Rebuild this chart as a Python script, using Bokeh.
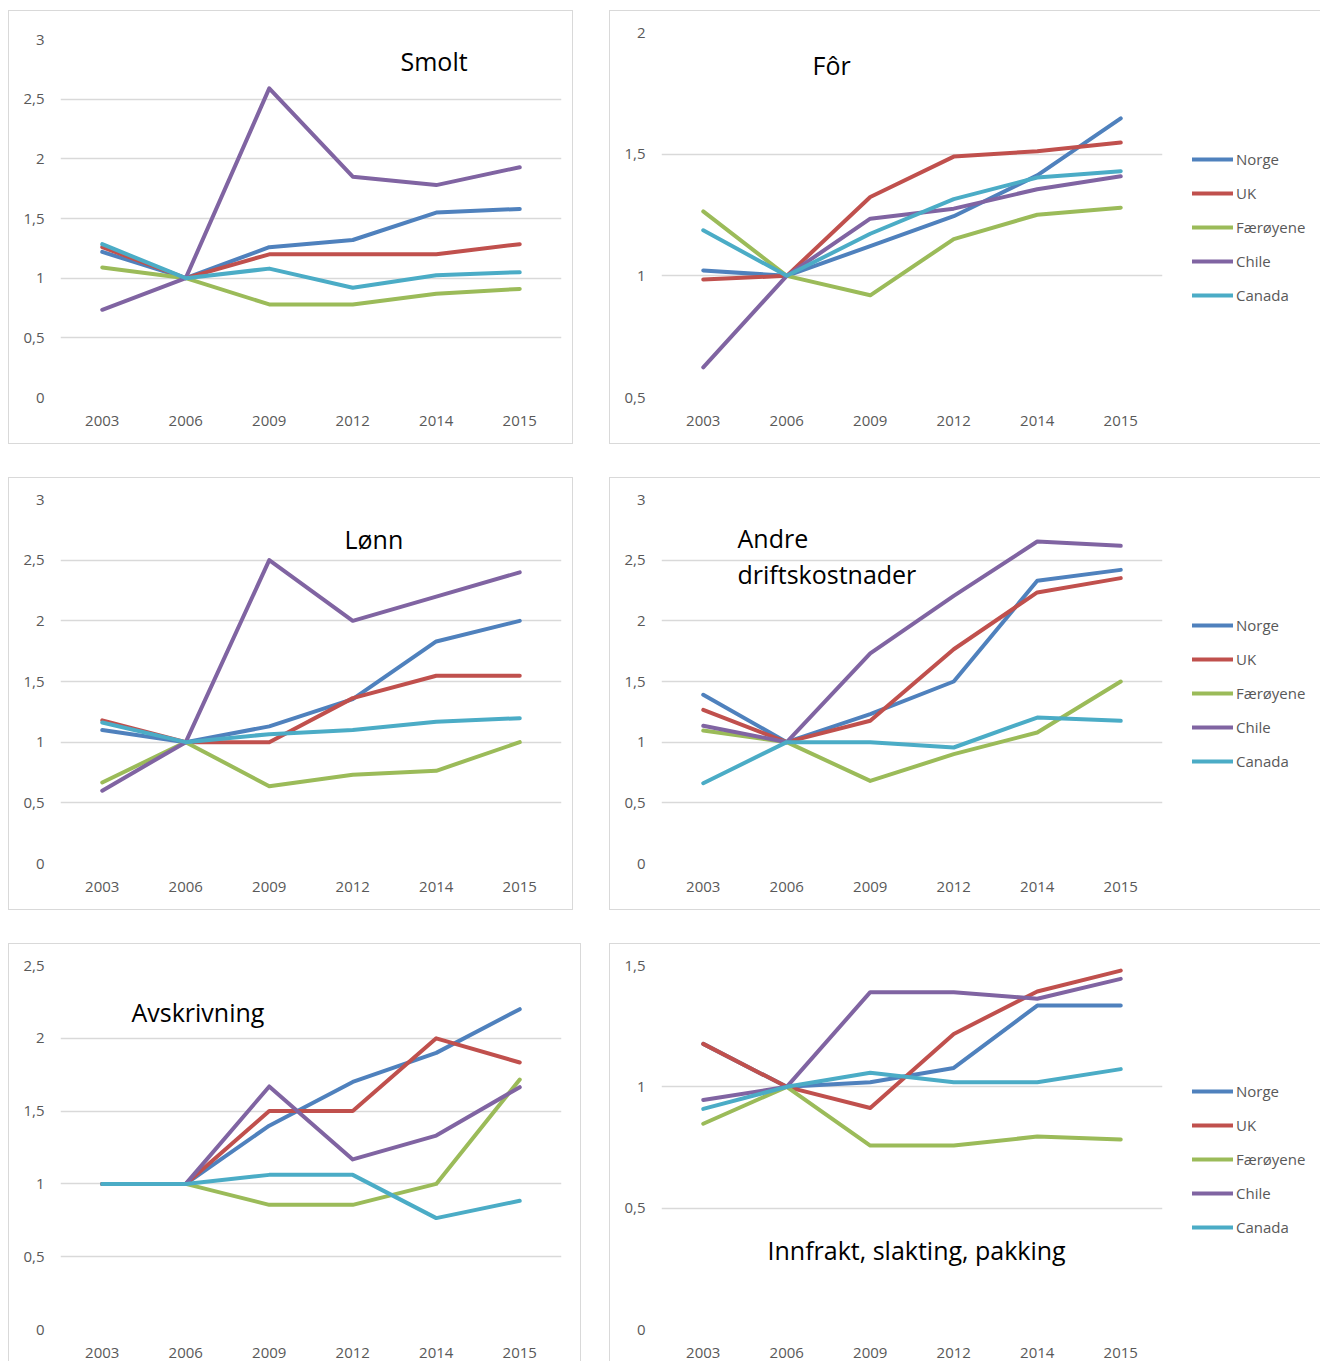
from bokeh.plotting import figure
from bokeh.models import (FactorRange, Range1d, FixedTicker, CustomJSTickFormatter,
                          Legend, LegendItem, Label, Spacer)
from bokeh.layouts import row, column
from bokeh.embed import file_html
from bokeh.resources import INLINE

years = ["2003", "2006", "2009", "2012", "2014", "2015"]
countries = ["Norge", "UK", "Færøyene", "Chile", "Canada"]
colors = ["#4F81BD", "#C0504D", "#9BBB59", "#8064A2", "#4BACC6"]

smolt = {
    "Norge":    [1.22, 1.0, 1.26, 1.32, 1.55, 1.58],
    "UK":       [1.26, 1.0, 1.20, 1.20, 1.20, 1.285],
    "Færøyene": [1.09, 1.0, 0.78, 0.78, 0.87, 0.91],
    "Chile":    [0.735, 1.0, 2.59, 1.85, 1.78, 1.93],
    "Canada":   [1.285, 1.0, 1.08, 0.92, 1.025, 1.05],
}
foer = {
    "Norge":    [1.022, 1.0, 1.122, 1.245, 1.413, 1.647],
    "UK":       [0.985, 1.0, 1.324, 1.49, 1.512, 1.548],
    "Færøyene": [1.265, 1.0, 0.92, 1.151, 1.251, 1.28],
    "Chile":    [0.624, 1.0, 1.235, 1.276, 1.356, 1.409],
    "Canada":   [1.187, 1.0, 1.173, 1.315, 1.404, 1.43],
}
lonn = {
    "Norge":    [1.10, 1.0, 1.13, 1.354, 1.83, 2.0],
    "UK":       [1.18, 1.0, 1.0, 1.363, 1.547, 1.547],
    "Færøyene": [0.668, 1.0, 0.637, 0.731, 0.764, 1.0],
    "Chile":    [0.6, 1.0, 2.5, 2.0, 2.2, 2.4],
    "Canada":   [1.162, 1.0, 1.066, 1.10, 1.168, 1.198],
}
andre = {
    "Norge":    [1.39, 1.0, 1.231, 1.5, 2.33, 2.42],
    "UK":       [1.266, 1.0, 1.176, 1.766, 2.234, 2.352],
    "Færøyene": [1.096, 1.0, 0.681, 0.901, 1.08, 1.5],
    "Chile":    [1.135, 1.0, 1.731, 2.206, 2.654, 2.618],
    "Canada":   [0.662, 1.0, 1.0, 0.956, 1.203, 1.176],
}
avskrivning = {
    "Norge":    [1.0, 1.0, 1.40, 1.70, 1.90, 2.20],
    "UK":       [1.0, 1.0, 1.5, 1.5, 2.0, 1.834],
    "Færøyene": [1.0, 1.0, 0.856, 0.856, 1.0, 1.717],
    "Chile":    [1.0, 1.0, 1.669, 1.168, 1.332, 1.664],
    "Canada":   [1.0, 1.0, 1.062, 1.062, 0.765, 0.884],
}
innfrakt = {
    "Norge":    [1.177, 1.0, 1.019, 1.078, 1.335, 1.335],
    "UK":       [1.177, 1.0, 0.913, 1.218, 1.393, 1.479],
    "Færøyene": [0.848, 1.0, 0.758, 0.758, 0.795, 0.783],
    "Chile":    [0.946, 1.0, 1.39, 1.39, 1.363, 1.445],
    "Canada":   [0.909, 1.0, 1.058, 1.019, 1.019, 1.073],
}

FONT = "Open Sans"
GRID = "#d9d9d9"
TICK = "#595959"

ALL4 = "inset 1px 1px 0 #d9d9d9, inset -1px -1px 0 #d9d9d9"
RIGHT_TOP = "inset 1px 1px 0 #d9d9d9, inset 0 -1px 0 #d9d9d9"
LEFT_BOTTOM = "inset 1px 1px 0 #d9d9d9, inset -1px 0 0 #d9d9d9"
RIGHT_BOTTOM = "inset 1px 1px 0 #d9d9d9"


def make_panel(data, y_start, y_end, ticks, width, height, top, bottom, right,
               titles, shadow=None):
    kw = {}
    if shadow:
        kw["styles"] = {"box-shadow": shadow}
    p = figure(x_range=FactorRange(*years), y_range=Range1d(y_start, y_end),
               width=width, height=height, output_backend="svg",
               toolbar_location=None, min_border_left=52, min_border_right=right,
               min_border_top=top, min_border_bottom=bottom,
               border_fill_color=None, background_fill_color=None,
               outline_line_color=None, **kw)
    p.xgrid.grid_line_color = None
    p.ygrid.grid_line_color = GRID
    p.ygrid.grid_line_width = 1.3
    p.yaxis.ticker = FixedTicker(ticks=ticks)
    p.yaxis.formatter = CustomJSTickFormatter(code="return tick.toString().replace('.', ',');")
    for ax in (p.xaxis[0], p.yaxis[0]):
        ax.axis_line_color = None
        ax.major_tick_line_color = None
        ax.minor_tick_line_color = None
        ax.major_label_text_font = FONT
        ax.major_label_text_font_size = "15px"
        ax.major_label_text_color = TICK
    p.yaxis.major_label_standoff = 10
    p.xaxis.major_label_standoff = 12
    for c, col in zip(countries, colors):
        p.line(years, data[c], line_color=col, line_width=4,
               line_join="round", line_cap="round")
    for (tx, ty, txt) in titles:
        p.add_layout(Label(x=tx, y=ty, x_units="screen", y_units="screen", text=txt,
                           text_font=FONT, text_font_size="25px", text_color="black",
                           text_baseline="middle", text_align="left"))
    return p


def make_legend(data, width, height, top, bottom, lx, ly):
    # legend-only area: the series are drawn outside its (hidden) y range,
    # so only the legend entries are visible
    lf = figure(width=width, height=height, x_range=FactorRange(*years),
                y_range=Range1d(-3, -2),
                output_backend="svg", toolbar_location=None,
                x_axis_location=None, y_axis_location=None,
                min_border_left=0, min_border_right=0,
                min_border_top=top, min_border_bottom=bottom,
                border_fill_color=None, background_fill_color=None,
                outline_line_color=None)
    lf.xgrid.visible = False
    lf.ygrid.visible = False
    rs = [lf.line(years, data[c], line_color=col, line_width=4, line_cap="round")
          for c, col in zip(countries, colors)]
    items = [LegendItem(label=c, renderers=[r]) for c, r in zip(countries, rs)]
    leg = Legend(items=items, location=(lx, ly), padding=0, margin=0, spacing=14,
                 glyph_width=41, glyph_height=20, label_height=20, label_standoff=3,
                 border_line_color=None, background_fill_alpha=0,
                 label_text_font=FONT, label_text_font_size="15px",
                 label_text_color=TICK)
    lf.add_layout(leg, "center")
    return lf


MW = 563          # main figure width of right-hand panels
LW = 148          # legend area width
MB = MW - 553

h1 = [0, 0.5, 1, 1.5, 2, 2.5, 3]
p1 = make_panel(smolt, 0, 3, h1, 565, 434, 29, 47, 12,
                [(340, 337, "Smolt")], ALL4)
p2 = make_panel(foer, 0.5, 2, [0.5, 1, 1.5, 2], MW, 434, 22, 47, MB,
                [(151, 333, "Fôr")])
p2b = row(p2, make_legend(foer, LW, 434, 22, 47, 20, 92),
          styles={"box-shadow": RIGHT_TOP})
p3 = make_panel(lonn, 0, 3, h1, 565, 433, 22, 47, 12,
                [(284, 325, "Lønn")], ALL4)
p4 = make_panel(andre, 0, 3, h1, MW, 433, 22, 47, MB,
                [(76, 326, "Andre"), (76, 290, "driftskostnader")])
p4b = row(p4, make_legend(andre, LW, 433, 22, 47, 20, 92),
          styles={"box-shadow": RIGHT_TOP})
p5 = make_panel(avskrivning, 0, 2.5, [0, 0.5, 1, 1.5, 2, 2.5], 573, 418, 22, 32, 20,
                [(71, 318, "Avskrivning")], LEFT_BOTTOM)
p6 = make_panel(innfrakt, 0, 1.5, [0, 0.5, 1, 1.5], MW, 418, 22, 32, MB,
                [(106, 80, "Innfrakt, slakting, pakking")])
p6b = row(p6, make_legend(innfrakt, LW, 418, 22, 32, 20, 92),
          styles={"box-shadow": RIGHT_BOTTOM})

layout = column(
    Spacer(height=10),
    row(Spacer(width=8), p1, Spacer(width=36), p2b),
    Spacer(height=33),
    row(Spacer(width=8), p3, Spacer(width=36), p4b),
    Spacer(height=33),
    row(Spacer(width=8), p5, Spacer(width=28), p6b),
)

open("out.html", "w").write(file_html(layout, INLINE))
